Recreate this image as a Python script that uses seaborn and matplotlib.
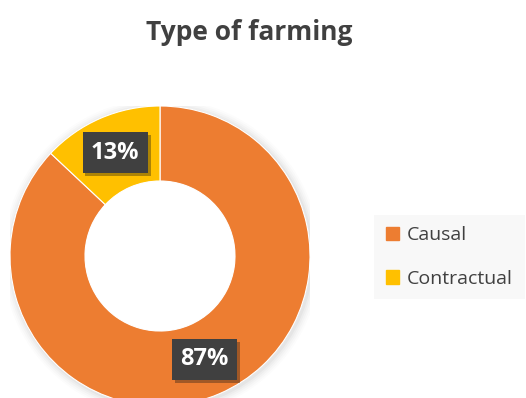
import matplotlib
matplotlib.use("Agg")
import matplotlib.pyplot as plt
import matplotlib.patheffects as pe
import seaborn as sns

categories = ["Causal", "Contractual"]
values = [87, 13]
colors = ["#ED7D31", "#FFC000"]
title = "Type of farming"

sns.set_theme(style="white")
plt.rcParams["font.family"] = ["Open Sans", "DejaVu Sans"]

W, H = 526, 398
fig = plt.figure(figsize=(W / 100, H / 100), dpi=100)
fig.patch.set_facecolor("white")

cx, cy, R = 160, 256, 150
ax = fig.add_axes([(cx - R) / W, (H - cy - R) / H, 2 * R / W, 2 * R / H])
ax.axis("off")

# faint shadow around donut
for i, a in enumerate([0.03, 0.025, 0.02, 0.015, 0.01]):
    ax.add_patch(plt.Circle((0.01, -0.01), 1.0 + 0.012 * (i + 1), color="#000000", alpha=a, lw=0, zorder=0))

wedges, texts, autotexts = ax.pie(
    values, colors=colors, startangle=90, counterclock=False, radius=1.0,
    wedgeprops=dict(width=0.5, edgecolor="white", linewidth=0.8),
    autopct=lambda p: f"{p:.0f}%", pctdistance=0.75,
    textprops=dict(color="white", fontsize=17, fontweight="bold"),
)
ax.add_patch(plt.Circle((0, 0), 0.5, color="white", zorder=3, lw=0))
for t in autotexts:
    t.set_zorder(5)
    t.set_bbox(dict(boxstyle="square,pad=0.36", facecolor="#404040", edgecolor="none"))
    t.get_bbox_patch().set_path_effects([pe.SimplePatchShadow(offset=(2, -2), alpha=0.35), pe.Normal()])
ax.set_xlim(-1, 1)
ax.set_ylim(-1, 1)
ax.set_aspect("equal")

fig.text(249 / W, 1 - 32 / H, title, ha="center", va="center", fontsize=19,
         fontweight="bold", color="#404040")

handles = [plt.Rectangle((0, 0), 1, 1, color=c) for c in colors]
leg = fig.legend(handles, categories, loc="center left", bbox_to_anchor=(374 / W, 1 - 257 / H),
                 frameon=True, facecolor="#F7F7F7", edgecolor="none", fontsize=14,
                 handlelength=0.7, handleheight=0.7, handletextpad=0.4, labelspacing=1.3,
                 borderpad=0.6, borderaxespad=0, fancybox=False)
for t in leg.get_texts():
    t.set_color("#404040")

fig.savefig("out.png", dpi=100)
